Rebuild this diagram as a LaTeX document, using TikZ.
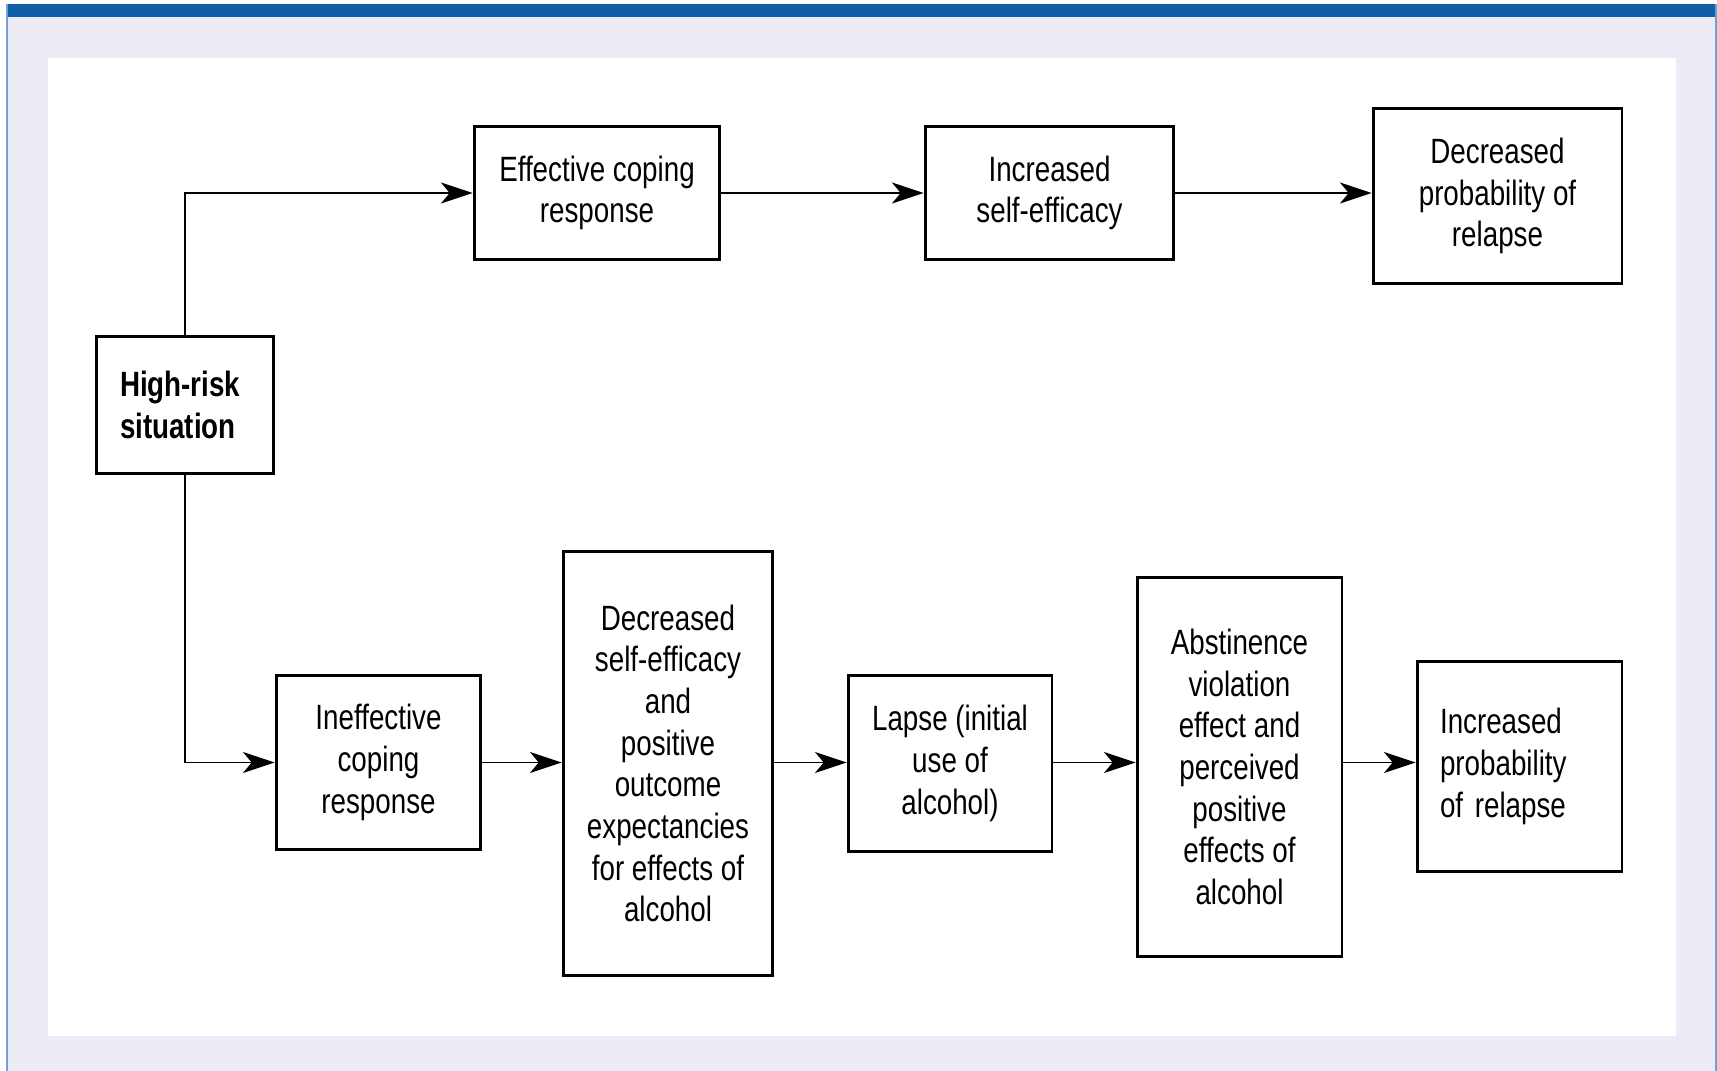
\documentclass[tikz,border=0pt]{standalone}
\usepackage{fontspec}
\setmainfont{Liberation Sans}[FakeStretch=0.79]
\usepackage{tikz}
\usetikzlibrary{arrows.meta}
\definecolor{frameBlue}{RGB}{16, 96, 168}
\definecolor{edgeBlue}{RGB}{110, 160, 215}
\definecolor{paneLilac}{RGB}{237, 235, 245}

\begin{document}
\begin{tikzpicture}[x=0.02cm, y=-0.02cm,
		stepbox/.style={draw, line width=1.7pt, align=center, inner sep=2pt,
			font=\fontsize{20}{23.7}\selectfont},
		flow/.style={-{Stealth[length=18pt, width=12pt, inset=5pt]}, line width=0.9pt}]
			\useasboundingbox (0,0) rectangle (1717,1071);
			% frame and panel
			\fill[paneLilac] (7,17) rectangle (1717,1071);
			\fill[frameBlue] (7,4) rectangle (1717,17);
			\draw[edgeBlue, line width=1.2pt] (7,4) -- (7,1071);
			\draw[edgeBlue, line width=1.2pt] (1716,4) -- (1716,1071);
			\fill[white] (48,58) rectangle (1676,1036);

			\draw (185,405) node[stepbox, align=left, text width=2.60cm, inner xsep=0.48cm, minimum height=2.76cm, font=\fontsize{20}{23.7}\selectfont\bfseries] (HR) {High-risk\\situation};

			% upper branch
			\draw (597,193) node[stepbox, minimum width=4.92cm, minimum height=2.68cm] (EC) {Effective coping\\response};
			\draw (1049.5,193) node[stepbox, minimum width=4.98cm, minimum height=2.68cm] (ISE) {Increased\\self-efficacy};
			\draw (1497.5,196) node[stepbox, minimum width=4.98cm, minimum height=3.52cm] (DPR) {Decreased\\probability of\\relapse};

			% lower branch
			\draw (378.5,762.5) node[stepbox, minimum width=4.10cm, minimum height=3.50cm] (IC) {Ineffective\\coping\\response};
			\draw (668,763.5) node[stepbox, minimum width=4.20cm, minimum height=8.50cm] (DSE) {Decreased\\self-efficacy\\and\\positive\\outcome\\expectancies\\for effects of\\alcohol};
			\draw (950,763.5) node[stepbox, minimum width=4.08cm, minimum height=3.54cm] (L) {Lapse (initial\\use of\\alcohol)};
			\draw (1239.5,767) node[stepbox, minimum width=4.10cm, minimum height=7.60cm] (AV) {Abstinence\\violation\\effect and\\perceived\\positive\\effects of\\alcohol};
			\draw (1519.5,766.5) node[stepbox, align=left, text width=3.18cm, inner xsep=0.46cm, minimum height=4.22cm] (IPR) {Increased\\probability\\\mbox{of relapse}};

			\draw[flow] (HR.north) |- (EC.west);
			\draw[flow] (HR.south) |- (IC.west);
			\path[flow]
			(EC) edge (ISE)
			(ISE) edge (ISE -| DPR.west)
			(IC) edge (IC -| DSE.west)
			(IC -| DSE.east) edge (IC -| L.west)
			(IC -| L.east) edge (IC -| AV.west)
			(IC -| AV.east) edge (IC -| IPR.west)
			;
		\end{tikzpicture}
\end{document}
